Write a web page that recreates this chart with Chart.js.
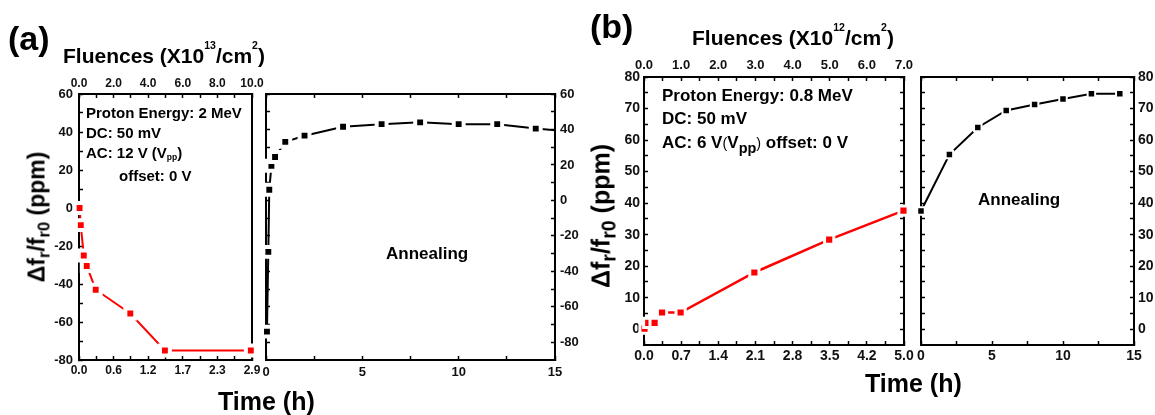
<!DOCTYPE html>
<html>
<head>
<meta charset="utf-8">
<script src="https://cdn.jsdelivr.net/npm/chart.js@4.4.0/dist/chart.umd.min.js"></script>
<style>
  body { margin: 0; background: #fff; width: 1155px; height: 415px; overflow: hidden; position: relative;
         font-family: "Liberation Sans", Arial, sans-serif; font-weight: bold; color: #000; }
  canvas { position: absolute; }
  .t { position: absolute; white-space: nowrap; line-height: 1; }
  .sp { position: relative; font-size: .5em; top: -1.3em; }
  .sb { position: relative; font-size: .72em; top: .3em; }
  .rot { transform: translate(-50%, -50%) rotate(-90deg); }
</style>
</head>
<body>
<canvas id="a1"></canvas>
<canvas id="a2"></canvas>
<canvas id="b1"></canvas>
<canvas id="b2"></canvas>

<div class="t" style="left:8px;top:21px;font-size:34px">(a)</div>
<div class="t" style="left:590px;top:9px;font-size:34px">(b)</div>

<div class="t" style="left:63px;top:45px;font-size:21px">Fluences (X10<span class="sp">13</span>/cm<span class="sp">2</span>)</div>
<div class="t" style="left:692px;top:27px;font-size:21px">Fluences (X10<span class="sp">12</span>/cm<span class="sp">2</span>)</div>

<div class="t rot" style="left:37px;top:217px;font-size:23px">&Delta;f<span class="sb">r</span>/f<span class="sb">r0</span> (ppm)</div>
<div class="t rot" style="left:601px;top:216px;font-size:25px">&Delta;f<span class="sb" style="font-size:.78em">r</span>/f<span class="sb" style="font-size:.78em">r0</span> (ppm)</div>

<div class="t" style="left:218px;top:389px;font-size:25px">Time (h)</div>
<div class="t" style="left:865px;top:371px;font-size:25px">Time (h)</div>

<div class="t" style="left:86px;top:105px;font-size:15px">Proton Energy: 2 MeV</div>
<div class="t" style="left:86px;top:125px;font-size:15px">DC: 50 mV</div>
<div class="t" style="left:86px;top:145px;font-size:15px">AC: 12 V (V<span style="position:relative;font-size:.57em;top:.25em">pp</span>)</div>
<div class="t" style="left:119px;top:168px;font-size:15px">offset: 0 V</div>
<div class="t" style="left:386px;top:245px;font-size:17px">Annealing</div>

<div class="t" style="left:662px;top:87px;font-size:17px">Proton Energy: 0.8 MeV</div>
<div class="t" style="left:662px;top:110px;font-size:17px">DC: 50 mV</div>
<div class="t" style="left:662px;top:134px;font-size:17px">AC: 6 V<span style="font-weight:normal;font-size:.85em">(</span>V<span style="position:relative;font-size:.85em;top:.35em">pp</span><span style="font-weight:normal;font-size:.85em">)</span> offset: 0 V</div>
<div class="t" style="left:978px;top:191px;font-size:17px">Annealing</div>

<script>
// (a) 2 MeV: irradiation then annealing
const A_IRR_TIME = [0.01, 0.03, 0.08, 0.13, 0.28, 0.86, 1.44, 2.88];
const A_IRR_SHIFT = [0, -9, -25, -30.5, -43, -55.5, -75, -75];
const A_ANN_TIME = [0.05, 0.12, 0.17, 0.28, 0.47, 1, 2, 4, 6, 8, 10, 12, 14, 15];
const A_ANN_SHIFT = [-74, -29, 6, 19.5, 24.5, 33, 36.5, 41.5, 43, 44, 43, 43, 40.5, 39.5];

// (b) 0.8 MeV: irradiation then annealing
const B_IRR_TIME = [0.01, 0.08, 0.2, 0.34, 0.69, 2.08, 3.49, 4.89];
const B_IRR_SHIFT = [0.2, 2, 2, 5.3, 5.3, 18, 28.4, 37.6];
const B_ANN_TIME = [0, 2, 4, 6, 8, 10, 12, 14];
const B_ANN_SHIFT = [37.5, 55.4, 64, 69.4, 71.3, 73, 74.7, 74.7];

// tick labels
const A_TIME_LABELS = ['0.0', '0.6', '1.2', '1.7', '2.3', '2.9'];
const A_FLUENCE_LABELS = ['0.0', '2.0', '4.0', '6.0', '8.0', '10.0'];
const A_SHIFT_LABELS = ['-80', '-60', '-40', '-20', '0', '20', '40', '60'];
const B_TIME_LABELS = ['0.0', '0.7', '1.4', '2.1', '2.8', '3.5', '4.2', '5.0'];
const B_FLUENCE_LABELS = ['0.0', '1.0', '2.0', '3.0', '4.0', '5.0', '6.0', '7.0'];
const B_SHIFT_LABELS = ['0', '10', '20', '30', '40', '50', '60', '70', '80'];
const ANN_TIME_LABELS = ['0', '5', '10', '15'];

const FONT = '"Liberation Sans", Arial, sans-serif';
const M = 40;

// every other tick carries a label, the rest are minor
function axis(pos, min, max, start, step, labels, size, pad, marks = true) {
  const horiz = pos === 'top' || pos === 'bottom';
  return {
    type: 'linear', position: pos, min: min, max: max, z: 1,
    border: { display: true, color: '#000', width: 2 },
    grid: { drawOnChartArea: false, drawTicks: marks, tickLength: -4, tickColor: '#000', tickWidth: 1.5 },
    afterBuildTicks: s => {
      const n = Math.round((max - start) / step);
      const t = [];
      for (let i = 0; i <= n; i++) t.push({ value: +(start + i * step).toFixed(6) });
      s.ticks = t;
    },
    ticks: {
      display: !!labels, autoSkip: false, maxRotation: 0, padding: pad || 0, color: '#111',
      font: { family: FONT, size: size || 13, weight: 'bold' },
      callback: (v, i) => (labels && i % 2 === 0 ? labels[i / 2] : '')
    },
    afterFit: s => { if (horiz) s.height = M; else s.width = M; }
  };
}

function series(xs, ys, color, lw, r, bw) {
  return {
    data: xs.map((x, i) => ({ x: x, y: ys[i] })),
    borderColor: color, backgroundColor: color, borderWidth: lw,
    pointStyle: 'rect', pointRadius: r, pointBackgroundColor: color,
    pointBorderColor: '#fff', pointBorderWidth: bw,
    tension: 0, clip: false, xAxisID: 'x', yAxisID: 'y'
  };
}

function panel(id, box, scales, datasets) {
  const c = document.getElementById(id);
  c.width = box.w + 2 * M;
  c.height = box.h + 2 * M;
  c.style.left = (box.x - M) + 'px';
  c.style.top = (box.y - M) + 'px';
  new Chart(c, {
    type: 'line',
    data: { datasets: datasets },
    options: {
      responsive: false, animation: false, events: [],
      layout: { padding: 0 },
      plugins: { legend: { display: false }, tooltip: { enabled: false } },
      scales: scales
    }
  });
}

panel('a1', { x: 79, y: 94, w: 173, h: 266 }, {
  x: axis('bottom', 0, 2.9, 0, 0.29, A_TIME_LABELS, 12, 7),
  x2: axis('top', 0, 10, 0, 1, A_FLUENCE_LABELS, 12, 7),
  y: axis('left', -80, 60, -80, 10, A_SHIFT_LABELS, 13, 10),
  y2: axis('right', -80, 60, -80, 10, null, 13, 0, false)
}, [series(A_IRR_TIME, A_IRR_SHIFT, '#ff0000', 2, 7, 4)]);

const annA = series(A_ANN_TIME, A_ANN_SHIFT, '#000', 2, 7, 4);
annA.pointRadius = c => (c.dataIndex === A_ANN_TIME.length - 1 ? 0 : 7);
panel('a2', { x: 266, y: 94, w: 289, h: 266 }, {
  x: axis('bottom', 0, 15, 0, 2.5, ANN_TIME_LABELS, 13, 9),
  x2: axis('top', 0, 15, 0, 2.5, null),
  y: axis('left', -90, 60, -80, 10, null),
  y2: axis('right', -90, 60, -80, 10, A_SHIFT_LABELS, 13, 9)
}, [annA]);

panel('b1', { x: 644, y: 77, w: 260, h: 268 }, {
  x: axis('bottom', 0, 4.9, 0, 0.35, B_TIME_LABELS, 14, 7),
  x2: axis('top', 0, 7, 0, 0.5, B_FLUENCE_LABELS, 13, 8),
  y: axis('left', -5, 80, 0, 5, B_SHIFT_LABELS, 14, 8),
  y2: axis('right', -5, 80, 0, 5, null)
}, [series(B_IRR_TIME, B_IRR_SHIFT, '#ff0000', 2.5, 6.5, 3)]);

panel('b2', { x: 921, y: 77, w: 213, h: 268 }, {
  x: axis('bottom', 0, 15, 0, 2.5, ANN_TIME_LABELS, 14, 7),
  x2: axis('top', 0, 15, 0, 2.5, null),
  y: axis('left', -5, 80, 0, 5, null),
  y2: axis('right', -5, 80, 0, 5, B_SHIFT_LABELS, 14, 8)
}, [series(B_ANN_TIME, B_ANN_SHIFT, '#000', 2, 5.3, 2)]);
</script>
</body>
</html>
